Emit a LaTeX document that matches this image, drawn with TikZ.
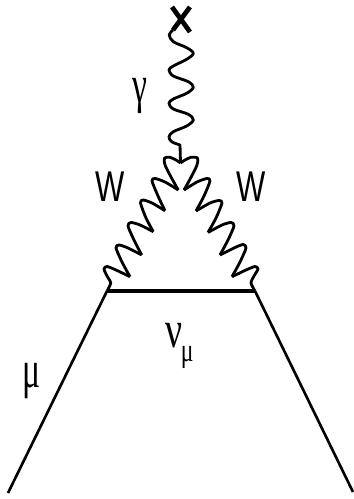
\documentclass[tikz,border=0pt]{standalone}
\usepackage{fontspec}
\setmainfont{Liberation Sans}
\newfontfamily\greekfont{Liberation Serif}
\tikzset{
  fermion/.style={line width=1.5pt},
  prop/.style={line width=2pt},
  boson/.style={line width=1.6pt, line join=round},
  vertexmark/.style={line width=2.7pt},
  bosonlabel/.style={inner sep=0pt, xscale=0.72, font=\fontsize{24.5}{24.5}\selectfont},
  greeklabel/.style={inner sep=0pt, xscale=0.8, yscale=1.25, font=\fontsize{24}{24}\selectfont\greekfont}
}
\begin{document}
\begin{tikzpicture}[x=0.02cm, y=-0.02cm]
  \useasboundingbox (0,0) rectangle (353,499);

  \coordinate (source) at (181,19);
  \coordinate (apex) at (180.5,163);
  \coordinate (left) at (107,291);
  \coordinate (right) at (255,291);
  \coordinate (inl) at (8,493);
  \coordinate (outr) at (353,492);

  % Fermion lines
  \draw[fermion] (inl) -- (left);
  \draw[fermion] (right) -- (outr);
  \draw[prop] (left) -- (right);

  % External field cross
  \draw[vertexmark] (172,7) -- (190,32);
  \draw[vertexmark] (190,7) -- (173,30);

  % Photon
  \draw[boson] plot[smooth, tension=0.55] coordinates {(173,30) (169.3,35) (173.3,41.7) (186.7,47.7) (193.3,53.3) (186.7,59.3) (173.3,66) (169,70) (173.3,76) (188.3,81.7) (193.3,87.3) (186.7,93.3) (173.3,99) (169,103.3) (173.3,109) (188.3,114.3) (193.3,120) (186.7,126) (173.3,131.7) (169,136.7) (171.7,141.7) (180,145)} -- (apex);

  % W bosons
  \draw[boson] plot[smooth, tension=0.45] coordinates {(apex) (176,160) (170,157.3) (164.5,158) (165,165) (171.7,178.3) (178.3,190)};
  \draw[boson] plot[smooth, tension=0.45] coordinates {(178.3,190) (165,182) (155,178.5) (152,181) (158,196) (165,210.7)};
  \draw[boson] plot[smooth, tension=0.45] coordinates {(165,210.7) (152,203) (143,200) (140.5,203) (146,218) (153.3,231.7)};
  \draw[boson] plot[smooth, tension=0.45] coordinates {(153.3,231.7) (140,225) (131,222.5) (128,226) (134,240) (141.7,255)};
  \draw[boson] plot[smooth, tension=0.45] coordinates {(141.7,255) (128,248) (119,245) (116,248) (122,262) (130,276.7)};
  \draw[boson] plot[smooth, tension=0.45] coordinates {(130,276.7) (116,270) (107,266.5) (104,269) (107,276) (110.7,283) (left)};

  \draw[boson] plot[smooth, tension=0.45] coordinates {(apex) (185,160) (191,157.3) (197.5,158) (197,165) (190.5,178.3) (184,190)};
  \draw[boson] plot[smooth, tension=0.45] coordinates {(184,190) (197,182) (207,178.5) (210,181) (204,196) (196,211)};
  \draw[boson] plot[smooth, tension=0.45] coordinates {(196,211) (210,203) (219,200.5) (222,203) (216,218) (208,232.5)};
  \draw[boson] plot[smooth, tension=0.45] coordinates {(208,232.5) (222,225) (231,222.5) (234,226) (228,240) (220,255)};
  \draw[boson] plot[smooth, tension=0.45] coordinates {(220,255) (234,248) (243,244.5) (246,248) (240,262) (232,276.7)};
  \draw[boson] plot[smooth, tension=0.45] coordinates {(232,276.7) (246,270) (255,266.5) (258,269) (254,276) (251,283) (right)};

  % Labels
  \node[greeklabel] (gammalabel) at (140,96) {γ};
  \node[bosonlabel] (wleft) at (110,187) {W};
  \node[bosonlabel] (wright) at (251,187) {W};
  \node[greeklabel] (mulabel) at (32,381) {μ};
  \node[greeklabel, xscale=1.12, anchor=base west] (nulabel) at (165,347) {ν\kern-1pt\raisebox{-6.8pt}{\fontsize{15}{15}\selectfont μ}};
\end{tikzpicture}
\end{document}
